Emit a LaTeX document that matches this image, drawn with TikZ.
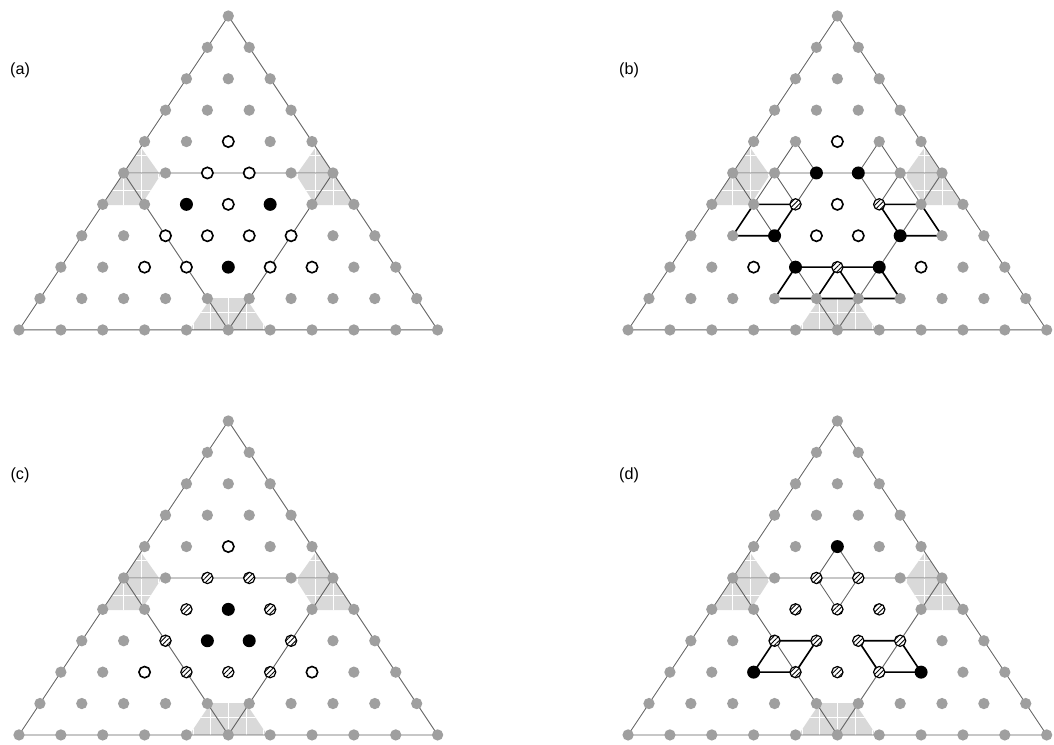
\documentclass[tikz,border=0pt]{standalone}
\usepackage{fontspec}
\setmainfont{Liberation Sans}
\usetikzlibrary{patterns.meta}

\tikzset{
    latdot/.style={circle, fill=gray!75, inner sep=0pt, minimum size=0.27cm},
    opendot/.style={circle, draw=black, line width=1.1pt, fill=white, inner sep=0pt, minimum size=0.27cm},
    fulldot/.style={circle, fill=black, inner sep=0pt, minimum size=0.31cm},
    hatchdot/.style={circle, draw=black, line width=0.8pt, fill=white, inner sep=0pt, minimum size=0.27cm,
        postaction={pattern={Lines[angle=45, distance=2.3pt, line width=0.6pt]}}},
    gridline/.style={black!62, line width=0.6pt},
    thinline/.style={black!62, line width=0.6pt},
    boldline/.style={black, line width=1.1pt},
    hexfill/.style={black!15},
    panellabel/.style={font=\fontsize{11pt}{13pt}\selectfont}
}

\begin{document}
\begin{tikzpicture}

    \useasboundingbox (-5.454,0.382) rectangle (19.725,-17.415);

    % =================================================================
    % 1. LATTICE POINTS, SHADED CORNERS AND TRIANGLES OF EACH PANEL
    % =================================================================
    \foreach \p/\dx/\dy in {a/0/0, b/14.55/0, c/0/-9.675, d/14.55/-9.675} {
        \begin{scope}[shift={(\dx,\dy)}]
            \foreach \r in {0,...,10} {
                \foreach \k in {0,...,\r} {
                    \coordinate (\p\r-\k) at ({\k-\r/2}, {-0.75*\r});
                }
            }
            % Shaded patches round the corners of the middle triangle
            \begin{scope}
                \clip (\p0-0) -- (\p10-0) -- (\p10-10) -- cycle;
                \foreach \v in {5-0, 5-5} {
                    \begin{scope}[shift={(\p\v)}]
                        \clip (-0.88,-0.05) -- (-0.42,0.6) -- (0.42,0.6) -- (0.88,-0.05)
                              -- (0.42,-0.77) -- (-0.42,-0.77) -- cycle;
                        \fill[hexfill] (-1,-1) rectangle (1,1);
                        \draw[white, line width=0.5pt] (-1,-1) grid[step=0.42] (1,1);
                    \end{scope}
                }
                \begin{scope}[shift={(\p10-5)}]
                    \clip (-0.93,0) -- (-0.42,0.76) -- (0.42,0.76) -- (0.93,0)
                          -- (0.42,-0.76) -- (-0.42,-0.76) -- cycle;
                    \fill[hexfill] (-1,-1) rectangle (1,1);
                    \draw[white, line width=0.5pt] (-1,-1) grid[step=0.42] (1,1);
                \end{scope}
            \end{scope}
            % Outer triangle and middle triangle
            \draw[gridline] (\p0-0) -- (\p10-0) -- (\p10-10) -- cycle;
            \draw[gridline] (\p5-0) -- (\p5-5) -- (\p10-5) -- cycle;
            % Panel letter
            \node[panellabel] (lab\p) at (-4.976,-1.29) {(\p)};
        \end{scope}
    }

    % =================================================================
    % 2. EXTRA BONDS IN PANELS (b) AND (d)
    % =================================================================
    % (b)
    \draw[thinline] (b5-1) -- (b4-1) -- (b5-2) -- (b6-2) -- (b5-1) -- (b6-1);
    \draw[thinline] (b5-4) -- (b4-3) -- (b5-3) -- (b6-4) -- (b5-4) -- (b6-5);
    \draw[boldline] (b6-1) -- (b6-2) -- (b7-2) -- (b7-1) -- cycle;
    \draw[boldline] (b6-4) -- (b6-5) -- (b7-6) -- (b7-5) -- cycle;
    \draw[boldline] (b8-3) -- (b8-5) -- (b9-6) -- (b9-3) -- cycle;
    \draw[boldline] (b9-4) -- (b8-4) -- (b9-5);
    % (d)
    \draw[thinline] (d4-2) -- (d5-2) -- (d6-3) -- (d5-3) -- cycle;
    \draw[boldline] (d7-2) -- (d7-3) -- (d8-3) -- (d8-2) -- cycle;
    \draw[boldline] (d7-4) -- (d7-5) -- (d8-6) -- (d8-5) -- cycle;

    % =================================================================
    % 3. GREY SITES
    % =================================================================
    \foreach \p in {a, b, c, d} {
        \foreach \r in {0,...,10} {
            \foreach \k in {0,...,\r} {
                \node[latdot] (s\p\r-\k) at (\p\r-\k) {};
            }
        }
    }

    % =================================================================
    % 4. MARKED SITES
    % =================================================================
    % (a)
    \foreach \s in {4-2, 5-2, 5-3, 6-3, 7-2, 7-3, 7-4, 7-5, 8-2, 8-3, 8-5, 8-6}
        \node[opendot] (oa\s) at (a\s) {};
    \foreach \s in {6-2, 6-4, 8-4}
        \node[fulldot] (fa\s) at (a\s) {};
    % (b)
    \foreach \s in {4-2, 6-3, 7-3, 7-4, 8-2, 8-6}
        \node[opendot] (ob\s) at (b\s) {};
    \foreach \s in {5-2, 5-3, 7-2, 7-5, 8-3, 8-5}
        \node[fulldot] (fb\s) at (b\s) {};
    \foreach \s in {6-2, 6-4, 8-4}
        \node[hatchdot] (hb\s) at (b\s) {};
    % (c)
    \foreach \s in {4-2, 8-2, 8-6}
        \node[opendot] (oc\s) at (c\s) {};
    \foreach \s in {6-3, 7-3, 7-4}
        \node[fulldot] (fc\s) at (c\s) {};
    \foreach \s in {5-2, 5-3, 6-2, 6-4, 7-2, 7-5, 8-3, 8-4, 8-5}
        \node[hatchdot] (hc\s) at (c\s) {};
    % (d)
    \foreach \s in {4-2, 8-2, 8-6}
        \node[fulldot] (fd\s) at (d\s) {};
    \foreach \s in {5-2, 5-3, 6-2, 6-3, 6-4, 7-2, 7-3, 7-4, 7-5, 8-3, 8-4, 8-5}
        \node[hatchdot] (hd\s) at (d\s) {};

\end{tikzpicture}
\end{document}
